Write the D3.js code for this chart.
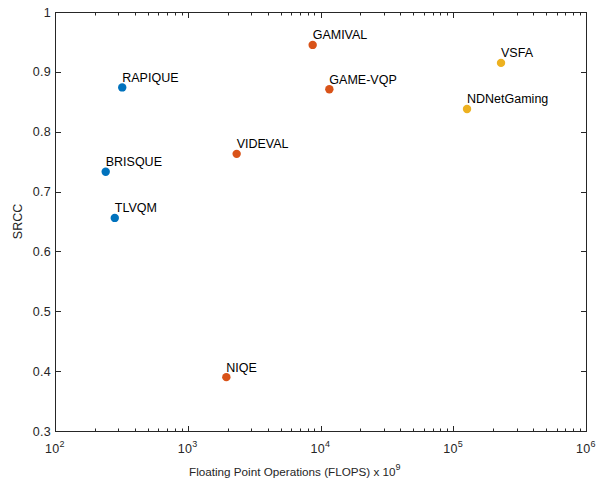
<!DOCTYPE html>
<html>
<head>
<meta charset="utf-8">
<script src="https://cdn.jsdelivr.net/npm/d3@7"></script>
<style>
  html, body { margin: 0; padding: 0; background: #fff; }
  svg { display: block; font-family: "Liberation Sans", Arial, Helvetica, sans-serif; }
</style>
</head>
<body>
<svg id="chart" width="598" height="482"></svg>
<script>
// Models and their cost (GFLOPS) vs. SRCC, grouped by colour family
const models = ["RAPIQUE", "BRISQUE", "TLVQM", "VIDEVAL", "NIQE", "GAMIVAL", "GAME-VQP", "VSFA", "NDNetGaming"];
const flops  = [321, 241, 282, 2336, 1953, 8730, 11660, 229000, 127000];
const srcc   = [0.874, 0.733, 0.656, 0.763, 0.390, 0.945, 0.871, 0.915, 0.838];
const group  = ["a", "a", "a", "b", "b", "b", "b", "c", "c"];
const groupColors = { a: "#0072BD", b: "#D95319", c: "#EDB120" };

const xTickExps = [2, 3, 4, 5, 6];
const yTicks = [0.3, 0.4, 0.5, 0.6, 0.7, 0.8, 0.9, 1];

const margin = { left: 55, top: 12, right: 12, bottom: 51 };
const W = 598, H = 482;
const x0 = margin.left, x1 = W - margin.right;
const y0 = margin.top, y1 = H - margin.bottom;

const svg = d3.select("#chart");
const x = d3.scaleLog().domain([1e2, 1e6]).range([x0, x1]);
const y = d3.scaleLinear().domain([0.3, 1]).range([y1, y0]);

const axisColor = "#262626";
const majorLen = 5.5, minorLen = 3;

// Minor log ticks (2..9 within each decade)
const minor = [];
for (let e = 2; e < 6; e++) for (let m = 2; m <= 9; m++) minor.push(m * Math.pow(10, e));

const g = svg.append("g");

// Box
g.append("rect")
  .attr("x", x0 + 0.5).attr("y", y0 + 0.5)
  .attr("width", x1 - x0).attr("height", y1 - y0)
  .attr("fill", "none").attr("stroke", axisColor).attr("stroke-width", 1);

// X ticks, bottom and top, pointing inward
const xt = g.append("g").attr("stroke", axisColor).attr("stroke-width", 1);
xTickExps.forEach(e => {
  const px = Math.round(x(Math.pow(10, e))) + 0.5;
  xt.append("line").attr("x1", px).attr("x2", px).attr("y1", y1 + 0.5).attr("y2", y1 + 0.5 - majorLen);
  xt.append("line").attr("x1", px).attr("x2", px).attr("y1", y0 + 0.5).attr("y2", y0 + 0.5 + majorLen);
});
minor.forEach(v => {
  const px = Math.round(x(v)) + 0.5;
  xt.append("line").attr("x1", px).attr("x2", px).attr("y1", y1 + 0.5).attr("y2", y1 + 0.5 - minorLen);
  xt.append("line").attr("x1", px).attr("x2", px).attr("y1", y0 + 0.5).attr("y2", y0 + 0.5 + minorLen);
});

// Y ticks, left and right, pointing inward
yTicks.forEach(v => {
  const py = Math.round(y(v)) + 0.5;
  xt.append("line").attr("x1", x0 + 0.5).attr("x2", x0 + 0.5 + majorLen).attr("y1", py).attr("y2", py);
  xt.append("line").attr("x1", x1 + 0.5).attr("x2", x1 + 0.5 - majorLen).attr("y1", py).attr("y2", py);
});

// Y tick labels
g.append("g").selectAll("text").data(yTicks).join("text")
  .attr("x", x0 - 4).attr("y", d => y(d))
  .attr("dy", "0.36em")
  .attr("text-anchor", "end")
  .attr("font-size", 12.5).attr("letter-spacing", 0.3).attr("fill", axisColor)
  .text(d => d3.format("")(d));

// X tick labels as powers of ten
const xl = g.append("g").selectAll("text").data(xTickExps).join("text")
  .attr("x", d => x(Math.pow(10, d)))
  .attr("y", y1 + 22)
  .attr("text-anchor", "middle")
  .attr("font-size", 12.5).attr("letter-spacing", 0.3).attr("fill", axisColor);
xl.append("tspan").text("10");
xl.append("tspan").attr("dy", -6).attr("font-size", 9).text(d => d);

// Axis titles
const xtitle = g.append("text")
  .attr("x", 189).attr("y", H - 6.5)
  .attr("font-size", 11.7).attr("fill", axisColor);
xtitle.append("tspan").text("Floating Point Operations (FLOPS) x 10");
xtitle.append("tspan").attr("dy", -6).attr("font-size", 9).text("9");

g.append("text")
  .attr("transform", `translate(22,${(y0 + y1) / 2}) rotate(-90)`)
  .attr("text-anchor", "middle")
  .attr("font-size", 12.5).attr("fill", axisColor)
  .text("SRCC");

// Points and labels
const pts = models.map((m, i) => ({ name: m, fx: flops[i], s: srcc[i], grp: group[i] }));

g.append("g").selectAll("circle").data(pts).join("circle")
  .attr("cx", d => x(d.fx)).attr("cy", d => y(d.s))
  .attr("r", 4.2)
  .attr("fill", d => groupColors[d.grp]);

g.append("g").selectAll("text").data(pts).join("text")
  .attr("x", d => x(d.fx))
  .attr("y", d => y(d.s) - 5.5)
  .attr("font-size", 12.5).attr("fill", "#000")
  .text(d => d.name);
</script>
</body>
</html>
